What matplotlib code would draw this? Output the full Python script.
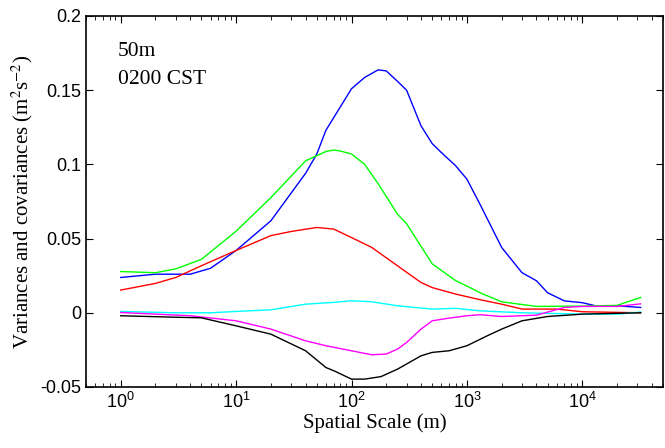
import numpy as np
import matplotlib.pyplot as plt
from matplotlib.ticker import LogLocator, NullFormatter

# spatial scale (m) and curve values
blue_x = [1, 2, 4, 6, 10, 20, 40, 50, 60, 100, 130, 170, 200, 250, 300, 400, 500, 600, 800,
          1000, 1300, 2000, 3000, 4000, 5000, 7000, 10000, 13000, 20000, 32000]
blue_y = [0.0238, 0.026, 0.026, 0.030, 0.042, 0.062, 0.094, 0.107, 0.123, 0.151, 0.1586,
          0.1637, 0.163, 0.156, 0.150, 0.126, 0.114, 0.108, 0.099, 0.090, 0.073, 0.044,
          0.027, 0.0216, 0.0135, 0.008, 0.0068, 0.0047, 0.0047, 0.0036]

green_x = [1, 2, 3, 5, 10, 20, 40, 60, 70, 80, 100, 130, 170, 250, 300, 500, 800, 1000,
           1300, 2000, 4000, 10000, 20000, 32000]
green_y = [0.0278, 0.027, 0.0296, 0.036, 0.055, 0.0776, 0.1024, 0.1087, 0.1097, 0.109,
           0.107, 0.100, 0.087, 0.0665, 0.060, 0.033, 0.0216, 0.018, 0.0135, 0.0074,
           0.0043, 0.0045, 0.005, 0.0103]

red_x = [1, 2, 3, 5, 10, 20, 30, 50, 70, 100, 150, 250, 400, 500, 800, 1300, 2000, 3000,
         6000, 10000, 32000]
red_y = [0.0153, 0.0198, 0.0238, 0.0317, 0.042, 0.052, 0.0548, 0.0575, 0.0564, 0.0507,
         0.044, 0.0317, 0.0204, 0.017, 0.0126, 0.0088, 0.0058, 0.0025, 0.0025, 0.0007, 0.0]

cyan_x = [1, 3, 6, 10, 20, 40, 70, 100, 150, 250, 500, 800, 1300, 3000, 10000, 20000, 32000]
cyan_y = [0.0009, 0.0, 0.0, 0.0009, 0.002, 0.0058, 0.007, 0.0081, 0.0074, 0.0047, 0.0025,
          0.003, 0.0013, 0.0, -0.0009, -0.0009, 0.0005]

magenta_x = [1, 4, 10, 20, 40, 60, 100, 150, 200, 250, 300, 400, 500, 700, 1000, 1300,
             2000, 4000, 7000, 10000, 20000, 32000]
magenta_y = [0.0002, -0.002, -0.0054, -0.011, -0.0189, -0.0222, -0.0256, -0.0283, -0.0278,
             -0.0245, -0.020, -0.011, -0.0054, -0.0036, -0.002, -0.0013, -0.0025, -0.0016,
             0.0036, 0.0043, 0.0043, 0.006]

black_x = [1, 3, 5, 10, 20, 40, 60, 70, 100, 130, 180, 250, 400, 500, 700, 1000, 1500,
           2000, 3000, 5000, 10000, 32000]
black_y = [-0.002, -0.003, -0.0034, -0.0088, -0.0144, -0.0256, -0.0369, -0.039, -0.0447,
           -0.0447, -0.043, -0.038, -0.029, -0.0267, -0.0256, -0.0222, -0.0155, -0.011,
           -0.0054, -0.0025, -0.0009, 0.0]

plt.rcParams['font.family'] = ['Liberation Sans', 'DejaVu Sans']
plt.rcParams['mathtext.fontset'] = 'stix'

fig = plt.figure(figsize=(6.65, 4.48), dpi=100)
ax = fig.add_axes([0.1293, 0.1362, 0.8677, 0.8281])

ax.plot(blue_x, blue_y, color='#0000ff', lw=1)
ax.plot(green_x, green_y, color='#00ff00', lw=1)
ax.plot(red_x, red_y, color='#ff0000', lw=1)
ax.plot(cyan_x, cyan_y, color='#00ffff', lw=1)
ax.plot(magenta_x, magenta_y, color='#ff00ff', lw=1)
ax.plot(black_x, black_y, color='black', lw=1)

ax.set_xscale('log')
ax.set_xlim(0.5, 5e4)
ax.set_ylim(-0.05, 0.2)
ax.set_xticks([1, 10, 100, 1000, 10000])
ax.xaxis.set_minor_locator(LogLocator(base=10, subs=np.arange(2, 10), numticks=20))
ax.xaxis.set_minor_formatter(NullFormatter())
ax.set_yticks([-0.05, 0, 0.05, 0.1, 0.15, 0.2])
ax.set_yticklabels(['-0.05', '0', '0.05', '0.1', '0.15', '0.2'])

ax.tick_params(which='both', direction='in', top=True, right=True, labelsize=13)
ax.tick_params(which='major', length=5)
ax.tick_params(which='minor', length=3)
for s in ax.spines.values():
    s.set_linewidth(1.2)

ax.set_xlabel('Spatial Scale (m)', family='Liberation Serif', fontsize=15, labelpad=1)
ax.set_ylabel('Variances and covariances (m$^2$s$^{-2}$)', family='Liberation Serif',
              fontsize=15, labelpad=4)
ax.text(0.055, 0.905, '50m', transform=ax.transAxes, family='Liberation Serif',
        fontsize=15.5, va='center')
ax.text(0.055, 0.828, '0200 CST', transform=ax.transAxes, family='Liberation Serif',
        fontsize=15.5, va='center')

fig.savefig('out.png', dpi=100)
